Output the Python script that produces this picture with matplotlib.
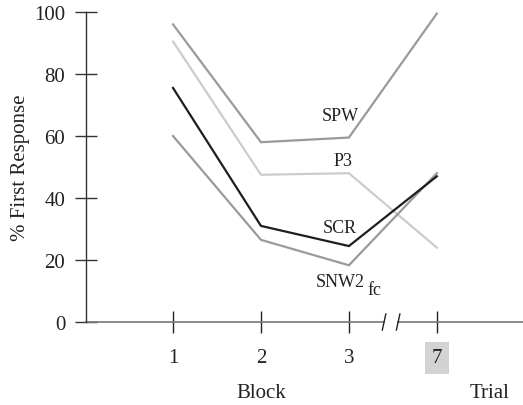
import matplotlib.pyplot as plt
import numpy as np

# Data
x_pos = [1, 2, 3, 4]
x_labels = ['1', '2', '3', '7']
spw = [96, 58, 59.5, 99.5]
p3 = [90.5, 47.5, 48, 24]
scr = [75.5, 31, 24.5, 47]
snw2 = [60, 26.5, 18.3, 48]

series = [('SPW', spw, '#9a9a9a'),
          ('P3', p3, '#cccccc'),
          ('SNW2', snw2, '#9a9a9a'),
          ('SCR', scr, '#1e1e1e')]

breaks = [3.40, 3.56]
x_min, x_max = 0.01, 4.98

plt.rcParams['font.family'] = 'Liberation Serif'

fig = plt.figure(figsize=(5.23, 4.06), dpi=100)
ax = fig.add_axes([0.1644, 0.2044, 1.0 - 0.1644, 0.9680 - 0.2044])

for name, vals, col in series:
    ax.plot(x_pos, vals, color=col, lw=1.6, solid_joinstyle='miter')

# line labels
ax.text(2.90, 66.5, 'SPW', fontsize=13, ha='center', va='center', color='#222222')
ax.text(2.93, 52, 'P3', fontsize=13, ha='center', va='center', color='#222222')
ax.text(2.90, 30.6, 'SCR', fontsize=13, ha='center', va='center', color='#222222')
ax.text(2.90, 13, 'SNW2', fontsize=13, ha='center', va='center', color='#222222')
ax.text(3.29, 10.4, 'fc', fontsize=13, ha='center', va='center', color='#222222')

ax.set_xlim(x_min, x_max)
ax.set_ylim(0, 100)

for s in ['top', 'right', 'bottom']:
    ax.spines[s].set_visible(False)
ax.spines['left'].set_color('#333333')
ax.spines['left'].set_linewidth(1.0)

# broken x axis
ax.plot([x_min, breaks[0]], [0, 0], color='#777777', lw=1.2, clip_on=False)
ax.plot([breaks[1], x_max], [0, 0], color='#777777', lw=1.2, clip_on=False)
for bx in breaks:
    ax.plot([bx - 0.02, bx + 0.02], [-2.6, 2.6], color='#222222', lw=1.0, clip_on=False)

ax.set_xticks(x_pos)
ax.set_xticklabels(x_labels)
ax.set_yticks(np.arange(0, 101, 20))
ax.tick_params(axis='x', direction='inout', length=16, width=1.0, color='#222222',
               labelsize=15, pad=11, labelcolor='#222222')
ax.tick_params(axis='y', direction='inout', length=16, width=1.0, color='#333333',
               labelsize=15, pad=7, labelcolor='#222222')
ax.get_xticklabels()[3].set_bbox(dict(facecolor='#d3d3d3', edgecolor='none', pad=5))

ax.set_ylabel('% First Response', fontsize=15, color='#222222', labelpad=3)

tr = ax.get_xaxis_transform()
ax.text(2, -0.226, 'Block', transform=tr, fontsize=15, ha='center', va='center', color='#222222')
ax.text(4.60, -0.226, 'Trial', transform=tr, fontsize=15, ha='center', va='center', color='#222222')

fig.savefig('out.png', dpi=100)
